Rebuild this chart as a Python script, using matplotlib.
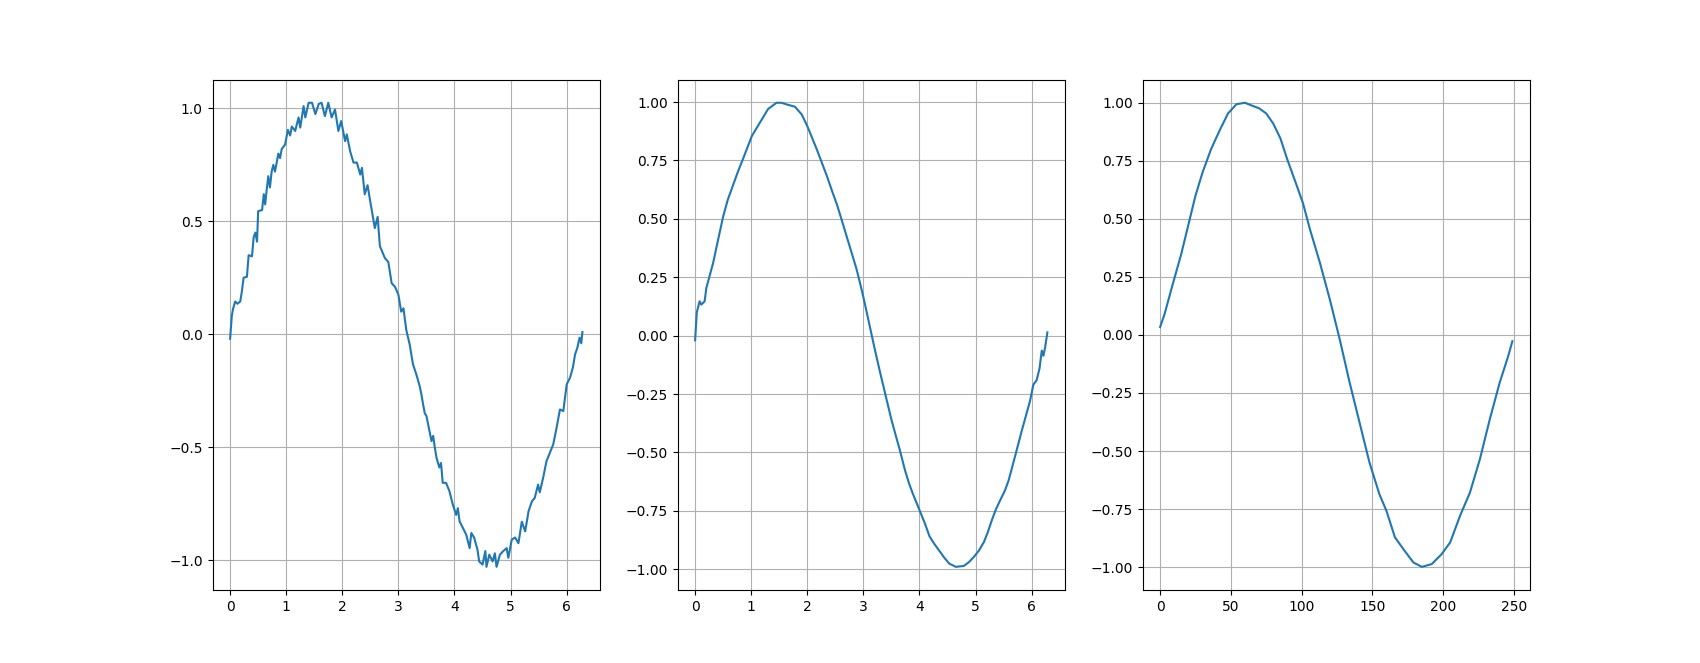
import matplotlib
matplotlib.use("Agg")
import matplotlib.pyplot as plt

# raw noisy signal
x_raw = [0.00, 0.03, 0.05, 0.09, 0.13, 0.18, 0.21, 0.24, 0.30, 0.33, 0.39, 0.42, 0.45, 0.48,
         0.50, 0.57, 0.60, 0.625, 0.65, 0.68, 0.71, 0.74, 0.77, 0.80, 0.86, 0.89, 0.92, 0.98,
         1.03, 1.07, 1.10, 1.16, 1.22, 1.25, 1.31, 1.34, 1.40, 1.46, 1.52, 1.58, 1.63, 1.69,
         1.75, 1.81, 1.87, 1.93, 1.98, 2.05, 2.08, 2.14, 2.20, 2.26, 2.32, 2.35, 2.40, 2.45,
         2.49, 2.58, 2.63, 2.67, 2.76, 2.82, 2.88, 2.94, 3.00, 3.05, 3.09, 3.14, 3.20, 3.26,
         3.32, 3.38, 3.41, 3.44, 3.47, 3.50, 3.59, 3.62, 3.65, 3.68, 3.73, 3.76, 3.79, 3.85,
         3.91, 3.97, 4.03, 4.06, 4.09, 4.15, 4.21, 4.27, 4.30, 4.35, 4.41, 4.44, 4.50, 4.55,
         4.57, 4.62, 4.68, 4.72, 4.75, 4.81, 4.87, 4.93, 4.96, 5.02, 5.08, 5.14, 5.20, 5.26,
         5.32, 5.38, 5.43, 5.49, 5.52, 5.58, 5.64, 5.70, 5.76, 5.82, 5.88, 5.94, 6.00, 6.06,
         6.11, 6.15, 6.19, 6.23, 6.26, 6.28]
y_raw = [-0.02, 0.08, 0.11, 0.145, 0.135, 0.145, 0.19, 0.25, 0.255, 0.35, 0.345, 0.43, 0.45, 0.41,
         0.545, 0.55, 0.62, 0.575, 0.635, 0.70, 0.65, 0.72, 0.75, 0.72, 0.80, 0.78, 0.82, 0.84,
         0.905, 0.88, 0.92, 0.90, 0.96, 0.915, 1.01, 0.96, 1.025, 1.025, 0.975, 1.02, 1.025, 0.966,
         1.025, 0.96, 0.995, 0.90, 0.944, 0.855, 0.885, 0.81, 0.76, 0.76, 0.707, 0.737, 0.62, 0.66,
         0.60, 0.47, 0.52, 0.39, 0.337, 0.32, 0.226, 0.21, 0.175, 0.10, 0.115, 0.02, -0.044, -0.133,
         -0.178, -0.23, -0.266, -0.31, -0.35, -0.362, -0.473, -0.45, -0.503, -0.547, -0.59, -0.57, -0.658, -0.658,
         -0.695, -0.754, -0.80, -0.77, -0.828, -0.858, -0.888, -0.947, -0.88, -0.90, -0.954, -1.006, -1.02, -0.96,
         -1.03, -0.976, -1.006, -0.97, -1.03, -0.976, -0.96, -0.947, -0.99, -0.91, -0.90, -0.925, -0.83, -0.873,
         -0.784, -0.74, -0.725, -0.666, -0.70, -0.636, -0.562, -0.525, -0.488, -0.414, -0.333, -0.34, -0.222, -0.192,
         -0.148, -0.089, -0.06, -0.015, -0.04, 0.01]

# smoothed, raw at the edges (middle panel)
x_smooth = [0.00, 0.03, 0.08, 0.11, 0.17, 0.20, 0.32, 0.40, 0.50, 0.58, 0.67, 0.76, 0.85, 1.01,
            1.15, 1.30, 1.45, 1.54, 1.63, 1.78, 1.90, 2.00, 2.08, 2.17, 2.26, 2.35, 2.44, 2.53,
            2.62, 2.70, 2.79, 2.88, 2.94, 3.00, 3.10, 3.20, 3.30, 3.40, 3.50, 3.58, 3.65, 3.74,
            3.81, 3.88, 4.00, 4.09, 4.18, 4.26, 4.35, 4.44, 4.53, 4.65, 4.79, 4.88, 4.97, 5.06,
            5.15, 5.22, 5.29, 5.36, 5.44, 5.52, 5.59, 5.70, 5.82, 5.97, 6.03, 6.09, 6.14, 6.18,
            6.21, 6.24, 6.28]
y_smooth = [-0.02, 0.10, 0.147, 0.133, 0.147, 0.204, 0.31, 0.40, 0.51, 0.58, 0.64, 0.70, 0.754, 0.854,
            0.91, 0.97, 0.997, 0.997, 0.99, 0.98, 0.947, 0.897, 0.85, 0.797, 0.74, 0.683, 0.62, 0.56,
            0.49, 0.426, 0.355, 0.283, 0.225, 0.165, 0.055, -0.055, -0.16, -0.26, -0.36, -0.43, -0.49, -0.575,
            -0.63, -0.676, -0.747, -0.80, -0.86, -0.89, -0.92, -0.95, -0.976, -0.99, -0.986, -0.97, -0.947, -0.92,
            -0.883, -0.84, -0.79, -0.745, -0.704, -0.665, -0.619, -0.52, -0.41, -0.28, -0.21, -0.19, -0.14, -0.064,
            -0.086, -0.05, 0.014]

# valid-mode smoothing, by sample index (right panel)
n_valid = [0, 3, 9, 15, 21, 25, 30, 36, 42, 48, 54, 60, 64, 70, 75, 80, 85, 90, 96, 101, 106,
           113, 120, 127, 134, 141, 148, 155, 160, 166, 172, 179, 185, 192, 199, 205, 212, 219,
           226, 233, 240, 246, 249]
y_valid = [0.034, 0.087, 0.22, 0.35, 0.50, 0.60, 0.70, 0.80, 0.88, 0.954, 0.994, 1.0, 0.99, 0.976,
           0.954, 0.91, 0.847, 0.754, 0.653, 0.567, 0.453, 0.31, 0.152, -0.02, -0.206, -0.378,
           -0.55, -0.686, -0.758, -0.872, -0.923, -0.98, -0.999, -0.987, -0.944, -0.894, -0.779,
           -0.679, -0.536, -0.364, -0.206, -0.092, -0.027]

fig, axes = plt.subplots(1, 3, figsize=(17, 6.63), dpi=100)
axes[0].plot(x_raw, y_raw)
axes[1].plot(x_smooth, y_smooth)
axes[2].plot(n_valid, y_valid)
for ax in axes:
    ax.grid(True)

fig.savefig("out.png", dpi=100)
